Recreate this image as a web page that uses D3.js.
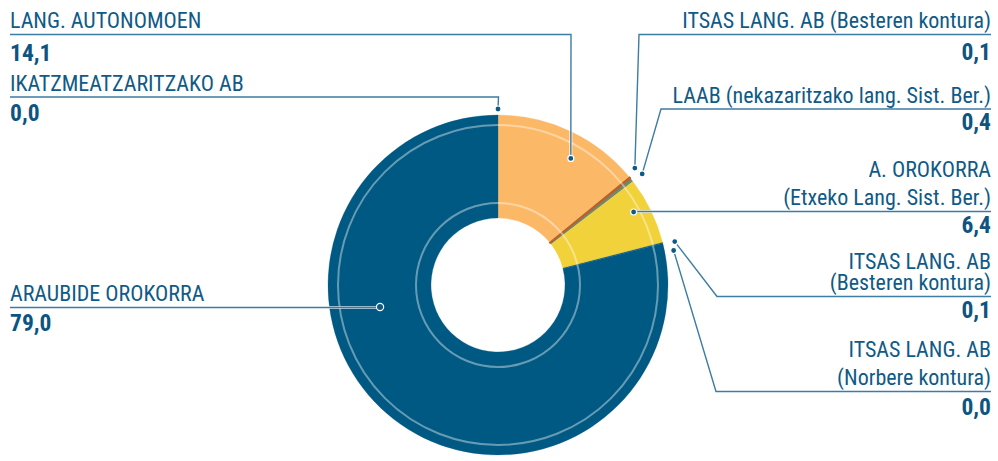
<!DOCTYPE html>
<html>
<head>
<meta charset="utf-8">
<script src="https://cdn.jsdelivr.net/npm/d3@7"></script>
<style>
body { margin: 0; background: #fff; }
text { font-family: "Liberation Sans Narrow", "Roboto Condensed", "DejaVu Sans Condensed", sans-serif; }
</style>
</head>
<body>
<svg class="chart"></svg>
<script>
// data
var categories = [
    ["LANG. AUTONOMOEN"],
    ["ITSAS LANG. AB (Besteren kontura)"],
    ["LAAB (nekazaritzako lang. Sist. Ber.)"],
    ["A. OROKORRA", "(Etxeko Lang. Sist. Ber.)"],
    ["ITSAS LANG. AB", "(Besteren kontura)"],
    ["ITSAS LANG. AB", "(Norbere kontura)"],
    ["ARAUBIDE OROKORRA"],
    ["IKATZMEATZARITZAKO AB"]
];
var values = [14.1, 0.1, 0.4, 6.4, 0.1, 0.0, 79.0, 0.0];
var valueLabels = ["14,1", "0,1", "0,4", "6,4", "0,1", "0,0", "79,0", "0,0"];
var colors = ["#fbb967", "#b9602c", "#6e8a6c", "#f2d23a", "#0c5a83", "#0c5a83", "#005983", "#005983"];

// label placement (side, underline y, elbow x, anchor: fraction of slice, radius, angle nudge deg)
var side = ["left", "right", "right", "right", "right", "right", "left", "left"];
var lineY = [34.5, 34.5, 109, 211.5, 296.5, 391.5, 307.5, 97];
var elbowX = [571, 639, 661, null, 717, 716, null, 498.5];
var lineGap = [28, 28, 28, 28, 21.5, 28, 28, 28];
var valueDy = [26, 25, 21, 21, 21, 23, 23, 24];
var anchorFrac = [0.59, 0.5, 0.5, 0.40, 0.5, 0.5, 0.646, 0.5];
var anchorR = [146, 180, 182, 154, 182, 179, 120, 176];
var anchorNudge = [0, -1.4, 0.6, 0, 0.5, 3, 0, 0];

var width = 998,
    height = 461;
var cx = 498, cy = 285;
var outerR = 170, innerR = 67;
var textColor = "#0f5a86";
var lineColor = "#3d7ca3";

var chart = d3.select(".chart")
    .attr("width", width)
    .attr("height", height);

var pie = d3.pie().sort(null).value(function(d) { return d; });
var arcs = pie(values);

var arc = d3.arc().innerRadius(innerR).outerRadius(outerR);

var g = chart.append("g").attr("transform", "translate(" + cx + "," + cy + ")");

g.selectAll("path.slice")
    .data(arcs)
    .enter()
    .append("path")
    .attr("class", "slice")
    .attr("d", arc)
    .attr("fill", function(d, i) { return colors[i]; })
    .attr("stroke", function(d, i) { return d.value > 0 ? colors[i] : "none"; })
    .attr("stroke-width", function(d, i) { return i == 1 ? 1.6 : 0.3; });

// thin brown slice drawn on top so it stays visible
g.selectAll("path.slice").filter(function(d, i) { return i == 1; }).raise();

// decorative rings
[160, 82].forEach(function(r) {
    g.append("circle")
        .attr("r", r)
        .attr("fill", "none")
        .attr("stroke", "#fff")
        .attr("stroke-opacity", 0.4)
        .attr("stroke-width", 2);
});

function anchorPoint(d, i) {
    var a = d.startAngle + anchorFrac[i] * (d.endAngle - d.startAngle) + anchorNudge[i] * Math.PI / 180;
    return [cx + anchorR[i] * Math.sin(a), cy - anchorR[i] * Math.cos(a)];
}

var labels = chart.append("g");

arcs.forEach(function(d, i) {
    var p = anchorPoint(d, i);
    var left = side[i] == "left";
    var x0 = left ? 10 : 991;
    var pts = [[x0, lineY[i]]];
    if (elbowX[i] != null) pts.push([elbowX[i], lineY[i]]);
    else pts.push([p[0], lineY[i]]);
    pts.push(p);

    var line = d3.line();
    // white halo so the line reads over the slices
    labels.append("path")
        .attr("d", line(pts))
        .attr("fill", "none")
        .attr("stroke", "#fff")
        .attr("stroke-opacity", 0.7)
        .attr("stroke-width", 3.2);
    labels.append("path")
        .attr("d", line(pts))
        .attr("fill", "none")
        .attr("stroke", lineColor)
        .attr("stroke-width", 1.4);

    labels.append("circle")
        .attr("cx", p[0])
        .attr("cy", p[1])
        .attr("r", i == 6 ? 3.6 : 3)
        .attr("fill", "#0c5a85")
        .attr("stroke", "#fff")
        .attr("stroke-width", 1.2);

    var lines = categories[i];
    lines.forEach(function(t, k) {
        labels.append("text")
            .attr("x", x0)
            .attr("y", lineY[i] - 6.5 - (lines.length - 1 - k) * lineGap[i])
            .attr("text-anchor", left ? "start" : "end")
            .attr("fill", textColor)
            .style("font-size", "22px")
            .text(t);
    });

    labels.append("text")
        .attr("x", x0)
        .attr("y", lineY[i] + valueDy[i])
        .attr("text-anchor", left ? "start" : "end")
        .attr("fill", "#0d5480")
        .style("font-size", "23.5px")
        .style("font-weight", "bold")
        .text(valueLabels[i]);
});
</script>
</body>
</html>
